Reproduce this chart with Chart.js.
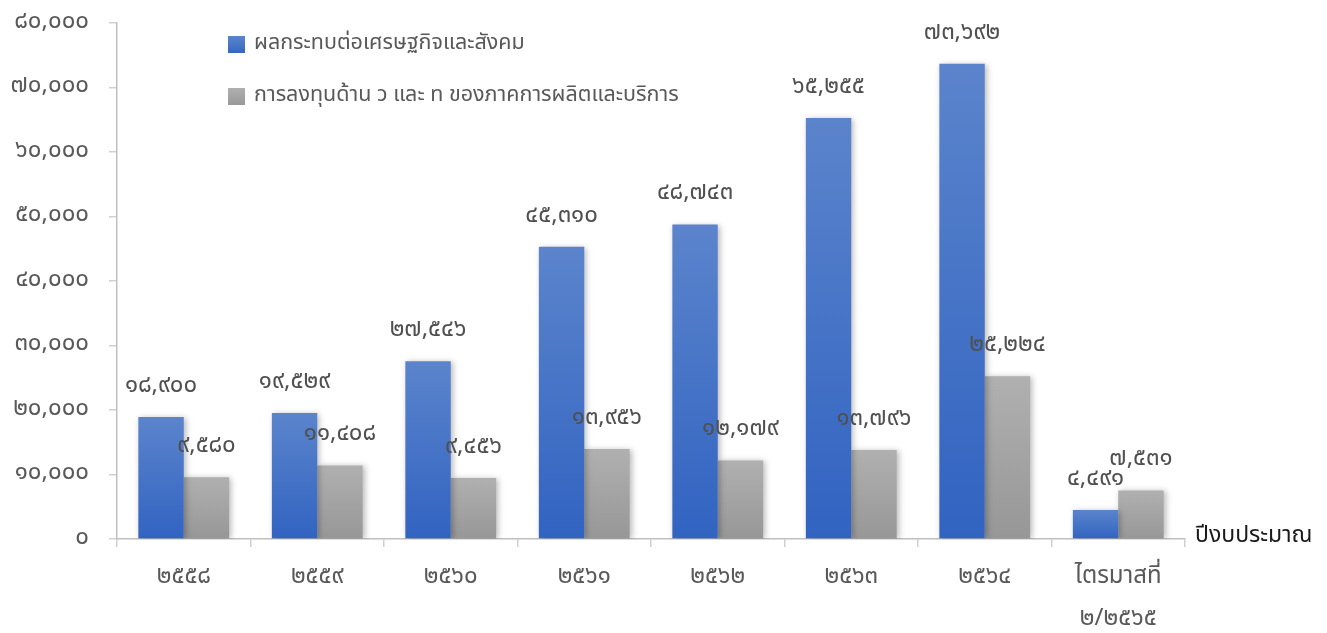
<!DOCTYPE html>
<html lang="th">
<head>
<meta charset="utf-8">
<title>ผลกระทบต่อเศรษฐกิจและสังคม</title>
<script src="https://cdn.jsdelivr.net/npm/chart.js@4.4.1/dist/chart.umd.min.js"></script>
<style>
    html, body { margin: 0; padding: 0; background: #fff; }
    #wrap { position: relative; width: 1327px; height: 633px; }
</style>
</head>
<body>
<div id="wrap"><canvas id="impactChart" width="1327" height="633"></canvas></div>
<script>
// Fiscal years (Thai numerals), last one is a quarter
const years = ['๒๕๕๘', '๒๕๕๙', '๒๕๖๐', '๒๕๖๑', '๒๕๖๒', '๒๕๖๓', '๒๕๖๔', ['ไตรมาสที่', '๒/๒๕๖๕']];

// Economic and social impact
const impactValues = [18900, 19529, 27546, 45310, 48743, 65255, 73692, 4491];

// R&D investment by manufacturing and service sector
const investValues = [9580, 11408, 9456, 13956, 12179, 13796, 25224, 7531];

const seriesNames = ['ผลกระทบต่อเศรษฐกิจและสังคม', 'การลงทุนด้าน ว และ ท ของภาคการผลิตและบริการ'];
const axisTitle = 'ปีงบประมาณ';

const yMax = 80000;
const yStep = 10000;

const FONT = "Tahoma, 'Noto Sans Thai', 'Noto Sans', sans-serif";

// Convert arabic digits to Thai digits with thousand separators
const thaiDigits = '๐๑๒๓๔๕๖๗๘๙';
function toThai(num) {
    return num.toLocaleString('en-US').replace(/[0-9]/g, d => thaiDigits[d]);
}

// Per-bar vertical gradient
function barGradient(top, bottom) {
    return function(context) {
        const chart = context.chart;
        const area = chart.chartArea;
        if (!area || context.raw === undefined) return bottom;
        const y = chart.scales.y.getPixelForValue(context.raw);
        const g = chart.ctx.createLinearGradient(0, y, 0, area.bottom);
        g.addColorStop(0, top);
        g.addColorStop(1, bottom);
        return g;
    };
}

// Soft shadow behind the bars
const barShadow = {
    id: 'barShadow',
    beforeDatasetsDraw(chart) {
        const ctx = chart.ctx;
        ctx.save();
        ctx.shadowColor = 'rgba(0, 0, 0, 0.28)';
        ctx.shadowBlur = 6;
        ctx.shadowOffsetX = 2;
        ctx.shadowOffsetY = 1;
    },
    afterDatasetsDraw(chart) {
        chart.ctx.restore();
    }
};

// Value labels above each bar
const valueLabels = {
    id: 'valueLabels',
    afterDatasetsDraw(chart) {
        const ctx = chart.ctx;
        ctx.save();
        ctx.font = '24px ' + FONT;
        ctx.fillStyle = '#505050';
        ctx.textAlign = 'center';
        ctx.textBaseline = 'middle';
        chart.data.datasets.forEach((ds, i) => {
            chart.getDatasetMeta(i).data.forEach((bar, j) => {
                ctx.fillText(toThai(ds.data[j]), bar.x, bar.y - 30);
            });
        });
        ctx.restore();
    }
};

// Legend inside the plot, top left
const innerLegend = {
    id: 'innerLegend',
    afterDraw(chart) {
        const ctx = chart.ctx;
        const swatches = [['#5b84cc', '#3465c0'], ['#b0b0b0', '#979797']];
        const rows = [45, 97];
        ctx.save();
        ctx.font = '21.5px ' + FONT;
        ctx.textBaseline = 'middle';
        ctx.textAlign = 'left';
        chart.data.datasets.forEach((ds, i) => {
            const y = rows[i];
            const g = ctx.createLinearGradient(0, y - 9, 0, y + 9);
            g.addColorStop(0, swatches[i][0]);
            g.addColorStop(1, swatches[i][1]);
            ctx.fillStyle = g;
            ctx.fillRect(228, y - 9, 17, 17);
            ctx.fillStyle = '#595959';
            ctx.fillText(ds.label, 254, y);
        });
        ctx.restore();
    }
};

// X axis title to the right of the axis
const sideTitle = {
    id: 'sideTitle',
    afterDraw(chart) {
        const ctx = chart.ctx;
        ctx.save();
        ctx.font = '23px ' + FONT;
        ctx.fillStyle = '#1a1a1a';
        ctx.textAlign = 'left';
        ctx.textBaseline = 'middle';
        ctx.fillText(axisTitle, chart.chartArea.right + 10, chart.chartArea.bottom - 2);
        ctx.restore();
    }
};

new Chart(document.getElementById('impactChart'), {
    type: 'bar',
    data: {
        labels: years,
        datasets: [{
            label: seriesNames[0],
            data: impactValues,
            backgroundColor: barGradient('#5b84cc', '#3163c1'),
            borderWidth: 0
        }, {
            label: seriesNames[1],
            data: investValues,
            backgroundColor: barGradient('#b0b0b0', '#979797'),
            borderWidth: 0
        }]
    },
    options: {
        responsive: false,
        animation: false,
        layout: {
            padding: { left: 0, right: 142, top: 0, bottom: 0 }
        },
        datasets: {
            bar: { barPercentage: 1, categoryPercentage: 0.68 }
        },
        plugins: {
            legend: { display: false },
            tooltip: { enabled: false }
        },
        scales: {
            x: {
                offset: true,
                afterFit: s => { s.height = 94; },
                border: { display: true, color: '#bfbfbf', width: 1.5 },
                grid: {
                    offset: true,
                    drawOnChartArea: false,
                    drawTicks: true,
                    tickLength: 8,
                    color: '#d0d0d0',
                    lineWidth: 1.5
                },
                ticks: {
                    color: '#595959',
                    padding: 10,
                    maxRotation: 0,
                    font: { family: FONT, size: 24, lineHeight: 1.75 }
                }
            },
            y: {
                min: 0,
                max: yMax,
                afterFit: s => { s.width = 117; },
                border: { display: true, color: '#bfbfbf', width: 1.5 },
                grid: {
                    drawOnChartArea: false,
                    drawTicks: true,
                    tickLength: 8,
                    color: '#d0d0d0',
                    lineWidth: 1.5
                },
                ticks: {
                    stepSize: yStep,
                    color: '#595959',
                    padding: 20,
                    // small line height keeps the plot top near the canvas edge
                    font: { family: FONT, size: 24, lineHeight: 0.25 },
                    callback: v => toThai(v)
                }
            }
        }
    },
    plugins: [barShadow, valueLabels, innerLegend, sideTitle]
});
</script>
</body>
</html>
